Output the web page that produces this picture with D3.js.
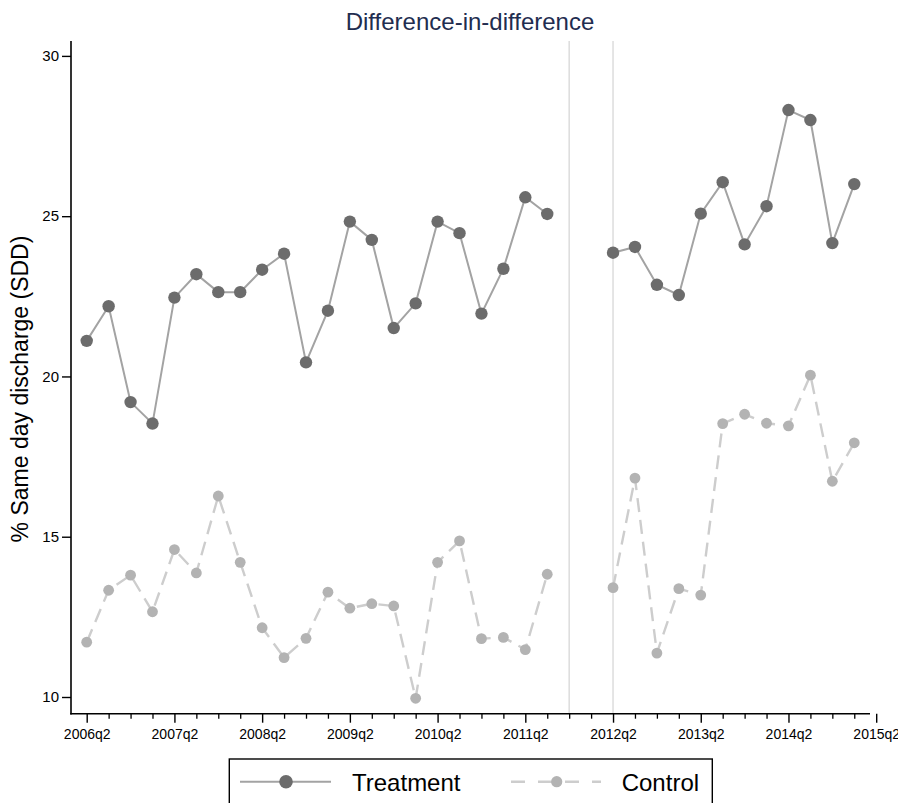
<!DOCTYPE html>
<html>
<head>
<meta charset="utf-8">
<script src="https://cdn.jsdelivr.net/npm/d3@7"></script>
<style>
  html, body { margin: 0; padding: 0; background: #fff; overflow: hidden; }
  svg { display: block; font-family: "Liberation Sans", Arial, Helvetica, sans-serif; }
</style>
</head>
<body>
<svg id="chart" width="898" height="803"></svg>
<script>
// ---- Data ----
const quarters = [
  "2006q2","2006q3","2006q4","2007q1","2007q2","2007q3","2007q4","2008q1",
  "2008q2","2008q3","2008q4","2009q1","2009q2","2009q3","2009q4","2010q1",
  "2010q2","2010q3","2010q4","2011q1","2011q2","2011q3","2011q4","2012q1",
  "2012q2","2012q3","2012q4","2013q1","2013q2","2013q3","2013q4","2014q1",
  "2014q2","2014q3","2014q4","2015q1","2015q2"
];
const treatment = [
  21.11, 22.19, 19.20, 18.53, 22.46, 23.19, 22.63, 22.63,
  23.33, 23.83, 20.44, 22.05, 24.83, 24.26, 21.51, 22.28,
  24.83, 24.47, 21.96, 23.36, 25.59, 25.07, null, null,
  23.86, 24.04, 22.86, 22.54, 25.08, 26.06, 24.12, 25.31,
  28.31, 28.00, 24.16, 26.00, null
];
const control = [
  11.71, 13.33, 13.80, 12.66, 14.60, 13.87, 16.27, 14.20,
  12.16, 11.23, 11.83, 13.27, 12.77, 12.91, 12.84, 9.96,
  14.20, 14.87, 11.82, 11.86, 11.48, 13.83, null, null,
  13.41, 16.83, 11.37, 13.38, 13.18, 18.53, 18.82, 18.54,
  18.46, 20.04, 16.73, 17.93, null
];
const xTickLabels = ["2006q2","2007q2","2008q2","2009q2","2010q2","2011q2","2012q2","2013q2","2014q2","2015q2"];
const yTicks = [10, 15, 20, 25, 30];
const refLines = ["2011q4", "2012q2"];
const seriesNames = ["Treatment", "Control"];
const titleText = "Difference-in-difference";
const yTitle = "% Same day discharge (SDD)";

// ---- Layout ----
const svg = d3.select("#chart");
const axisX = 71, axisY = 713.7, plotTop = 41, axisRight = 870;

const x = d3.scalePoint().domain(quarters).range([86.7, 876.2]);
const y = d3.scaleLinear().domain([10, 30]).range([697, 55.9]);

const style = {
  tLine: "#a3a3a3", tMark: "#6c6c6c",
  cLine: "#cdcdcd", cMark: "#b3b3b3",
  ref: "#dadada"
};

// Title
svg.append("text")
  .attr("x", 470).attr("y", 30)
  .attr("text-anchor", "middle")
  .attr("font-size", 24)
  .attr("fill", "#1f2d50")
  .text(titleText);

// Reference lines
svg.selectAll("line.ref").data(refLines).join("line")
  .attr("class", "ref")
  .attr("x1", d => x(d)).attr("x2", d => x(d))
  .attr("y1", plotTop).attr("y2", axisY)
  .attr("stroke", style.ref).attr("stroke-width", 1.4);

// Y axis
const yAxisG = svg.append("g").attr("transform", `translate(${axisX},0)`)
  .call(d3.axisLeft(y).tickValues(yTicks).tickSize(9).tickPadding(3).tickFormat(d3.format("d")));
yAxisG.select(".domain").remove();
yAxisG.selectAll(".tick line").attr("stroke", "#000").attr("stroke-width", 1.4);
yAxisG.selectAll(".tick text").attr("font-size", 15).attr("fill", "#000")
  .attr("font-family", "Liberation Sans, Arial, sans-serif");
svg.append("line").attr("x1", axisX).attr("x2", axisX).attr("y1", plotTop).attr("y2", axisY + 0.7)
  .attr("stroke", "#000").attr("stroke-width", 1.6);

// X axis: minor ticks every quarter
const minorG = svg.append("g").attr("transform", `translate(0,${axisY})`)
  .call(d3.axisBottom(x).tickValues(quarters.filter(q => !xTickLabels.includes(q))).tickSize(5).tickFormat(""));
minorG.select(".domain").remove();
minorG.selectAll(".tick line").attr("stroke", "#000").attr("stroke-width", 1.3);

const majorG = svg.append("g").attr("transform", `translate(0,${axisY})`)
  .call(d3.axisBottom(x).tickValues(xTickLabels).tickSize(9).tickPadding(6));
majorG.select(".domain").remove();
majorG.selectAll(".tick line").attr("stroke", "#000").attr("stroke-width", 1.4);
majorG.selectAll(".tick text").attr("font-size", 14).attr("fill", "#000")
  .attr("font-family", "Liberation Sans, Arial, sans-serif");
svg.append("line").attr("x1", axisX - 0.8).attr("x2", axisRight).attr("y1", axisY).attr("y2", axisY)
  .attr("stroke", "#000").attr("stroke-width", 1.6);

// Y axis title
svg.append("text")
  .attr("transform", `translate(28,389) rotate(-90)`)
  .attr("text-anchor", "middle")
  .attr("font-size", 23)
  .attr("fill", "#000")
  .text(yTitle);

// Series
const idx = quarters.map((q, i) => i);
const line = (vals) => d3.line()
  .defined(i => vals[i] != null)
  .x(i => x(quarters[i]))
  .y(i => y(vals[i]));

svg.append("path").datum(idx)
  .attr("d", line(control))
  .attr("fill", "none").attr("stroke", style.cLine)
  .attr("stroke-width", 2.4).attr("stroke-dasharray", "14,8");
svg.selectAll("circle.c").data(idx.filter(i => control[i] != null)).join("circle")
  .attr("class", "c")
  .attr("cx", i => x(quarters[i])).attr("cy", i => y(control[i]))
  .attr("r", 5.4).attr("fill", style.cMark);

svg.append("path").datum(idx)
  .attr("d", line(treatment))
  .attr("fill", "none").attr("stroke", style.tLine)
  .attr("stroke-width", 2);
svg.selectAll("circle.t").data(idx.filter(i => treatment[i] != null)).join("circle")
  .attr("class", "t")
  .attr("cx", i => x(quarters[i])).attr("cy", i => y(treatment[i]))
  .attr("r", 6.2).attr("fill", style.tMark);

// Legend
const lg = svg.append("g");
lg.append("rect").attr("x", 229.3).attr("y", 759).attr("width", 483).attr("height", 80)
  .attr("fill", "#fff").attr("stroke", "#000").attr("stroke-width", 1.4);
const ly = 781.7;
lg.append("line").attr("x1", 240).attr("x2", 331).attr("y1", ly).attr("y2", ly)
  .attr("stroke", style.tLine).attr("stroke-width", 2);
lg.append("circle").attr("cx", 286).attr("cy", ly).attr("r", 6.8).attr("fill", style.tMark);
lg.append("text").attr("x", 352).attr("y", 790.5).attr("font-size", 24).attr("fill", "#000").text(seriesNames[0]);
lg.append("line").attr("x1", 511).attr("x2", 601).attr("y1", ly).attr("y2", ly)
  .attr("stroke", style.cLine).attr("stroke-width", 2.4).attr("stroke-dasharray", "14,13");
lg.append("circle").attr("cx", 556.7).attr("cy", ly).attr("r", 5.6).attr("fill", style.cMark);
lg.append("text").attr("x", 621.7).attr("y", 790.5).attr("font-size", 24).attr("fill", "#000").text(seriesNames[1]);
</script>
</body>
</html>
